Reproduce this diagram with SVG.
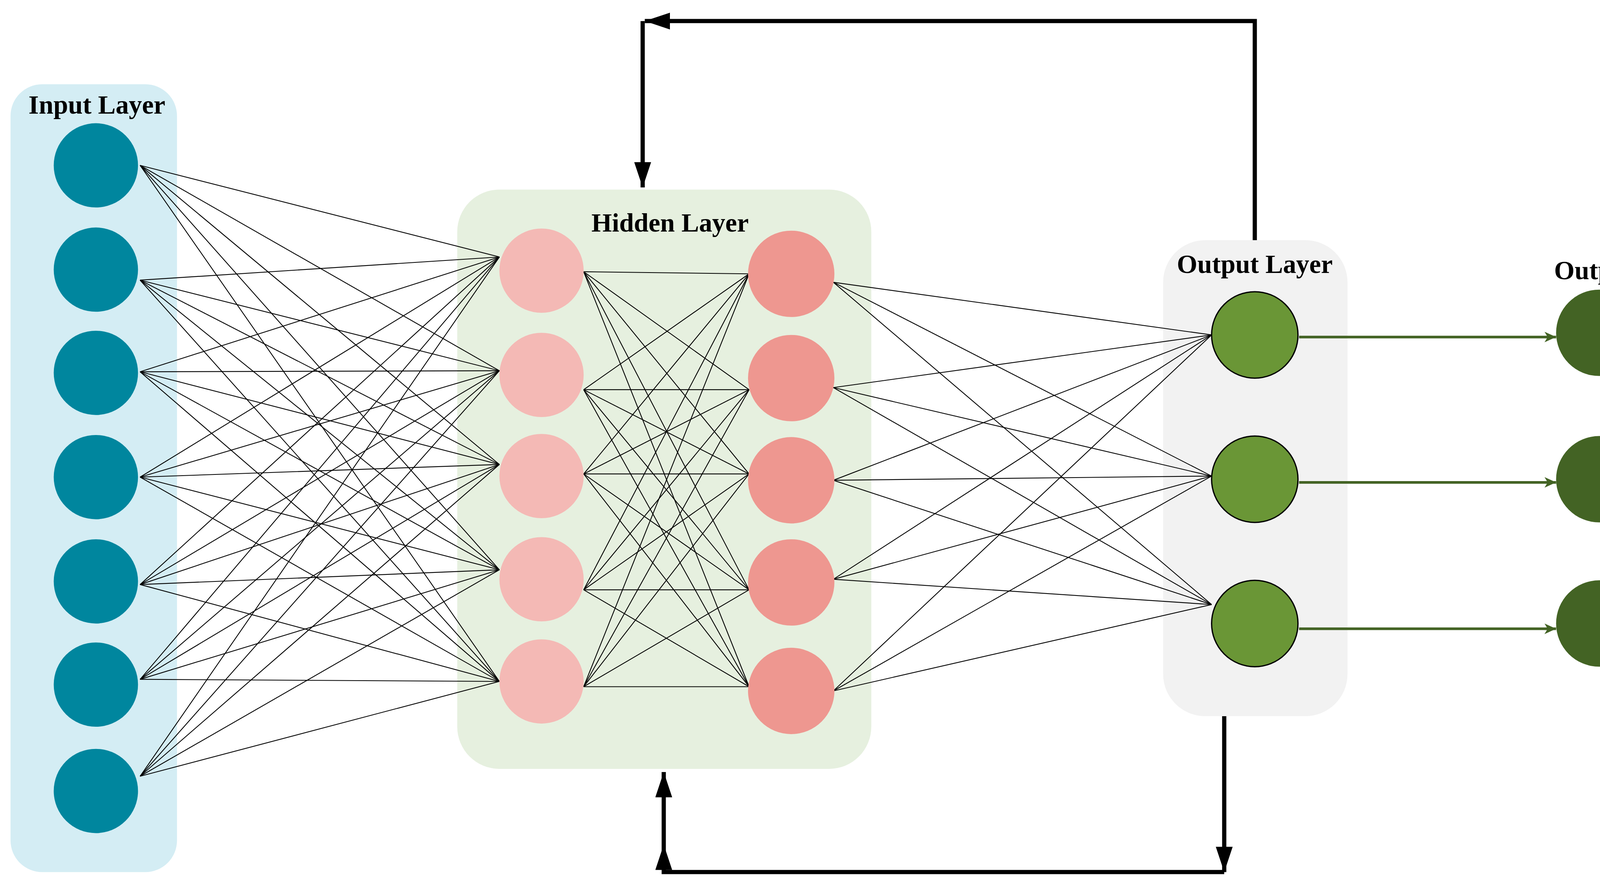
<svg xmlns="http://www.w3.org/2000/svg" width="4229" height="2274" viewBox="0 0 4229 2274">
<style>
.lbl{font-family:"Liberation Serif",serif;font-weight:bold;font-size:25px;text-anchor:middle;fill:#000;stroke:none}
.e line{stroke:#000;stroke-width:0.8}
.fb{stroke:#000;stroke-width:4;fill:none}
</style>
<defs>
<marker id="ah" markerWidth="6" markerHeight="4" refX="6" refY="2" orient="auto" markerUnits="strokeWidth"><path d="M0,0 L6,2 L0,4 z" fill="#000"/></marker>
<marker id="ag" markerWidth="11" markerHeight="10" refX="11" refY="5" orient="auto" markerUnits="userSpaceOnUse"><path d="M0,0 L11,5 L0,10 L3,5 z" fill="#436324"/></marker>
</defs>
<rect width="4229" height="2274" fill="#fff"/>
<g transform="scale(2.6971)">
<g id="panels">
<rect x="10" y="80" width="158" height="748" rx="30" fill="#d4edf4"/>
<rect x="434" y="180" width="393" height="550" rx="40" fill="#e6f0df"/>
<rect x="1104" y="228" width="175" height="452" rx="40" fill="#f2f2f2"/>
</g>
<g id="connectors">
<g class="e">
<line x1="133" y1="157" x2="474" y2="244"/><line x1="133" y1="157" x2="474" y2="352"/><line x1="133" y1="157" x2="474" y2="441"/><line x1="133" y1="157" x2="474" y2="541"/><line x1="133" y1="157" x2="474" y2="647"/>
<line x1="133" y1="266" x2="474" y2="244"/><line x1="133" y1="266" x2="474" y2="352"/><line x1="133" y1="266" x2="474" y2="441"/><line x1="133" y1="266" x2="474" y2="541"/><line x1="133" y1="266" x2="474" y2="647"/>
<line x1="133" y1="353" x2="474" y2="244"/><line x1="133" y1="353" x2="474" y2="352"/><line x1="133" y1="353" x2="474" y2="441"/><line x1="133" y1="353" x2="474" y2="541"/><line x1="133" y1="353" x2="474" y2="647"/>
<line x1="133" y1="453" x2="474" y2="244"/><line x1="133" y1="453" x2="474" y2="352"/><line x1="133" y1="453" x2="474" y2="441"/><line x1="133" y1="453" x2="474" y2="541"/><line x1="133" y1="453" x2="474" y2="647"/>
<line x1="133" y1="555" x2="474" y2="244"/><line x1="133" y1="555" x2="474" y2="352"/><line x1="133" y1="555" x2="474" y2="441"/><line x1="133" y1="555" x2="474" y2="541"/><line x1="133" y1="555" x2="474" y2="647"/>
<line x1="133" y1="645" x2="474" y2="244"/><line x1="133" y1="645" x2="474" y2="352"/><line x1="133" y1="645" x2="474" y2="441"/><line x1="133" y1="645" x2="474" y2="541"/><line x1="133" y1="645" x2="474" y2="647"/>
<line x1="133" y1="737" x2="474" y2="244"/><line x1="133" y1="737" x2="474" y2="352"/><line x1="133" y1="737" x2="474" y2="441"/><line x1="133" y1="737" x2="474" y2="541"/><line x1="133" y1="737" x2="474" y2="647"/>
<line x1="554" y1="258" x2="711" y2="260"/><line x1="554" y1="258" x2="711" y2="370"/><line x1="554" y1="258" x2="711" y2="450"/><line x1="554" y1="258" x2="711" y2="560"/><line x1="554" y1="258" x2="711" y2="652"/>
<line x1="554" y1="370" x2="711" y2="260"/><line x1="554" y1="370" x2="711" y2="370"/><line x1="554" y1="370" x2="711" y2="450"/><line x1="554" y1="370" x2="711" y2="560"/><line x1="554" y1="370" x2="711" y2="652"/>
<line x1="554" y1="450" x2="711" y2="260"/><line x1="554" y1="450" x2="711" y2="370"/><line x1="554" y1="450" x2="711" y2="450"/><line x1="554" y1="450" x2="711" y2="560"/><line x1="554" y1="450" x2="711" y2="652"/>
<line x1="554" y1="560" x2="711" y2="260"/><line x1="554" y1="560" x2="711" y2="370"/><line x1="554" y1="560" x2="711" y2="450"/><line x1="554" y1="560" x2="711" y2="560"/><line x1="554" y1="560" x2="711" y2="652"/>
<line x1="554" y1="652" x2="711" y2="260"/><line x1="554" y1="652" x2="711" y2="370"/><line x1="554" y1="652" x2="711" y2="450"/><line x1="554" y1="652" x2="711" y2="560"/><line x1="554" y1="652" x2="711" y2="652"/>
<line x1="791" y1="268" x2="1150" y2="318"/><line x1="791" y1="268" x2="1150" y2="452"/><line x1="791" y1="268" x2="1150" y2="574"/>
<line x1="791" y1="368" x2="1150" y2="318"/><line x1="791" y1="368" x2="1150" y2="452"/><line x1="791" y1="368" x2="1150" y2="574"/>
<line x1="791" y1="456" x2="1150" y2="318"/><line x1="791" y1="456" x2="1150" y2="452"/><line x1="791" y1="456" x2="1150" y2="574"/>
<line x1="791" y1="550" x2="1150" y2="318"/><line x1="791" y1="550" x2="1150" y2="452"/><line x1="791" y1="550" x2="1150" y2="574"/>
<line x1="791" y1="656" x2="1150" y2="318"/><line x1="791" y1="656" x2="1150" y2="452"/><line x1="791" y1="656" x2="1150" y2="574"/>
</g>
<g stroke="#436324" stroke-width="2.5">
<line x1="1233" y1="320" x2="1477" y2="320" marker-end="url(#ag)"/>
<line x1="1233" y1="458" x2="1477" y2="458" marker-end="url(#ag)"/>
<line x1="1233" y1="597" x2="1477" y2="597" marker-end="url(#ag)"/>
</g>
<polyline class="fb" points="1191,228 1191,20 612,20" marker-end="url(#ah)"/>
<polyline class="fb" points="610,20 610,178" marker-end="url(#ah)"/>
<polyline class="fb" points="1162,680 1162,828" marker-end="url(#ah)"/>
<polyline class="fb" points="1162,828 630,828 630,802" marker-end="url(#ah)"/>
<polyline class="fb" points="630,802 630,733" marker-end="url(#ah)"/>
</g>
<g id="input-layer" fill="#00869e">
<text class="lbl" x="92" y="108">Input Layer</text>
<circle cx="91" cy="157" r="40"/><circle cx="91" cy="256" r="40"/><circle cx="91" cy="354" r="40"/><circle cx="91" cy="453" r="40"/><circle cx="91" cy="552" r="40"/><circle cx="91" cy="650" r="40"/><circle cx="91" cy="751" r="40"/>
</g>
<g id="hidden-layer">
<text class="lbl" x="636" y="220">Hidden Layer</text>
<g fill="#f4b9b5"><circle cx="514" cy="257" r="40"/><circle cx="514" cy="356" r="40"/><circle cx="514" cy="452" r="40"/><circle cx="514" cy="550" r="40"/><circle cx="514" cy="647" r="40"/></g>
<g fill="#ee9790"><circle cx="751" cy="260" r="41"/><circle cx="751" cy="359" r="41"/><circle cx="751" cy="456" r="41"/><circle cx="751" cy="553" r="41"/><circle cx="751" cy="656" r="41"/></g>
</g>
<g id="output-layer" fill="#6a9636" stroke="#000" stroke-width="1.2">
<text class="lbl" x="1191" y="259">Output Layer</text>
<circle cx="1191" cy="318" r="41"/><circle cx="1191" cy="455" r="41"/><circle cx="1191" cy="592" r="41"/>
</g>
<g id="output" fill="#436324">
<text class="lbl" x="1514" y="265">Output</text>
<circle cx="1518" cy="316" r="41"/><circle cx="1518" cy="455" r="41"/><circle cx="1518" cy="592" r="41"/>
</g>
</g>
</svg>
